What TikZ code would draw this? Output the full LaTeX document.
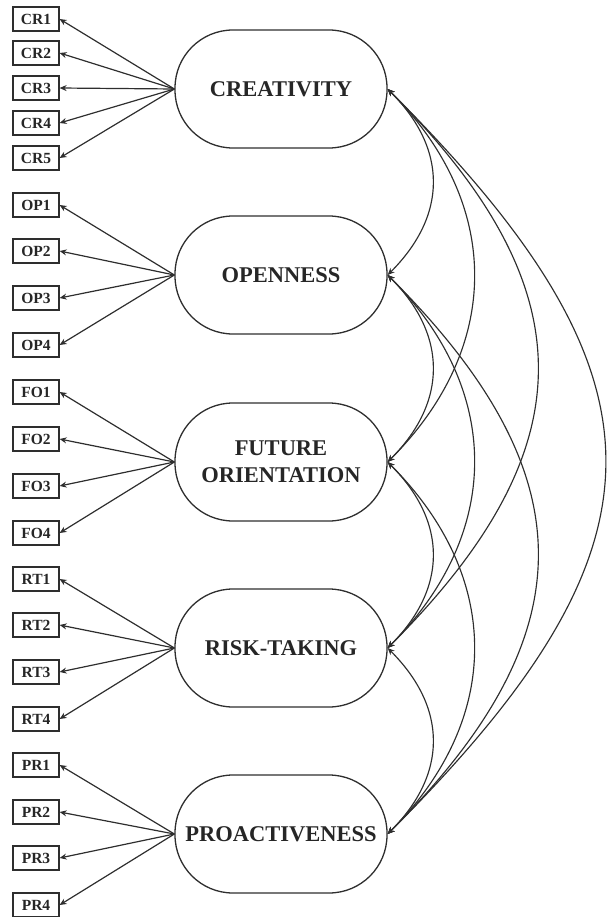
\documentclass[tikz,border=0pt]{standalone}
\usepackage{fontspec}
\setmainfont{Liberation Serif}
\usetikzlibrary{arrows.meta,calc}
\begin{document}
\begin{tikzpicture}[x=1pt,y=-1pt,
  ink/.style={draw=black!82},
  indicator/.style={ink, line width=1.2pt, rectangle, minimum width=46pt, minimum height=24pt,
    inner sep=0pt, font=\fontsize{15.5}{17}\selectfont\bfseries, text=black!85},
  latent/.style={ink, line width=1.3pt, rectangle, rounded corners=58pt, minimum width=212pt,
    minimum height=118pt, inner sep=0pt, align=center,
    font=\fontsize{22.5}{27}\selectfont\bfseries, text=black!85},
  tip/.style={Stealth[length=7pt,width=6pt]},
  loading/.style={ink, line width=1.2pt, -{Stealth[length=7pt,width=6pt]}},
  cov/.style={ink, line width=1.15pt, {Stealth[length=7pt,width=6pt]}-{Stealth[length=7pt,width=6pt]}}
]
\useasboundingbox (0,0) rectangle (606,917);

% latent constructs
\node[latent] (CR) at (281,89)  {CREATIVITY};
\node[latent] (OP) at (281,275) {OPENNESS};
\node[latent] (FO) at (281,462) {FUTURE\\ORIENTATION};
\node[latent] (RT) at (281,648) {RISK-TAKING};
\node[latent] (PR) at (281,834) {PROACTIVENESS};

% observed indicators
\foreach \n/\y in {1/19,2/53,3/88,4/123,5/158}
  \node[indicator] (CR\n) at (36,\y) {CR\n};
\foreach \n/\y in {1/205,2/251,3/298,4/345}
  \node[indicator] (OP\n) at (36,\y) {OP\n};
\foreach \n/\y in {1/392,2/439,3/486,4/533}
  \node[indicator] (FO\n) at (36,\y) {FO\n};
\foreach \n/\y in {1/579,2/625,3/672,4/719}
  \node[indicator] (RT\n) at (36,\y) {RT\n};
\foreach \n/\y in {1/765,2/812,3/858,4/905}
  \node[indicator] (PR\n) at (36,\y) {PR\n};

% factor loadings
\foreach \n in {1,...,5} \draw[loading] (CR.west) -- (CR\n.east);
\foreach \f in {OP,FO,RT,PR}
  \foreach \n in {1,...,4} \draw[loading] (\f.west) -- (\f\n.east);

% covariances between constructs
\foreach \a/\b/\c in {CR/OP/60, OP/FO/60, FO/RT/60, RT/PR/60,
                      CR/FO/115, OP/RT/115, FO/PR/115,
                      CR/RT/200, OP/PR/200,
                      CR/PR/290}
  \draw[cov] (\a.east) .. controls ($(\a.east)+(\c,\c)$) and ($(\b.east)+(\c,-\c)$) .. (\b.east);
\end{tikzpicture}
\end{document}
